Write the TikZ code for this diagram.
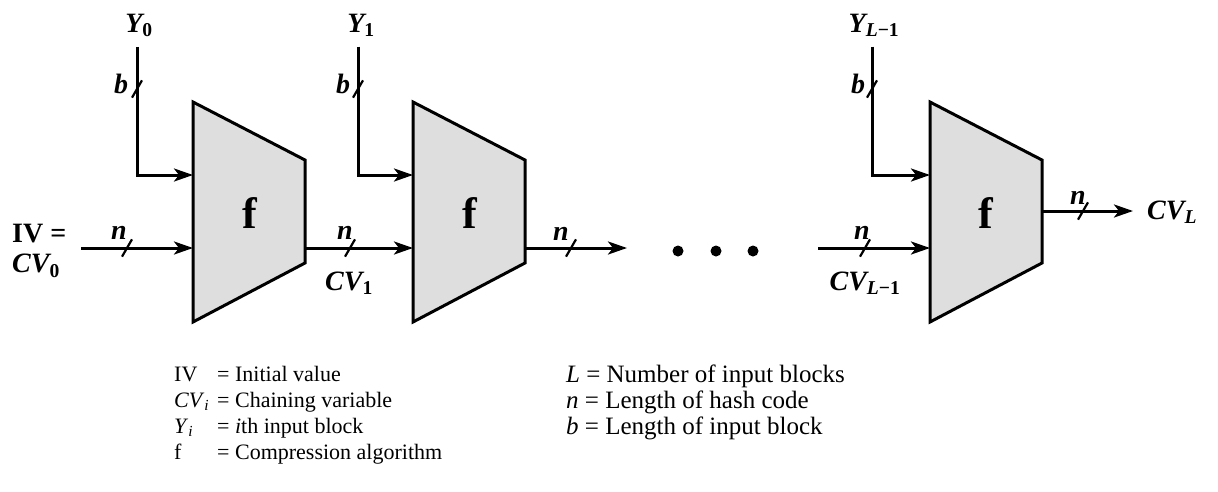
\documentclass[tikz,border=0pt]{standalone}
\usepackage{fontspec}
\setmainfont{Liberation Serif}
\usetikzlibrary{arrows.meta}

\begin{document}
\begin{tikzpicture}[x=1pt, y=-1pt,
        block/.style={draw, line width=3pt, fill=black!13},
        flow/.style={line width=3pt, -{Stealth[length=19pt, width=13pt, inset=5pt]}},
        slash/.style={draw, line width=2.2pt, rectangle, minimum width=0pt, minimum height=20pt, inner sep=0pt, outer sep=0pt, rotate=-30},
        lbl/.style={font=\fontsize{28}{30}\selectfont\bfseries\itshape, inner sep=1pt},
        ftext/.style={font=\fontsize{44}{44}\selectfont\bfseries, inner sep=1pt},
        dot/.style={circle, fill, inner sep=0pt, minimum size=11pt},
        legend/.style={font=\fontsize{22}{26}\selectfont, inner sep=0pt, anchor=base west}
      ]
      \useasboundingbox (0,0) rectangle (1218,491);

      % compression blocks
      \draw[block] (193,102) -- (305,160) -- (305,263) -- (193,322) -- cycle;
      \draw[block] (413,102) -- (525,160) -- (525,263) -- (413,322) -- cycle;
      \draw[block] (930,102) -- (1042,160) -- (1042,263) -- (930,322) -- cycle;
      \node[ftext, anchor=base] (f1) at (250,228) {f};
      \node[ftext, anchor=base] (f2) at (470,228) {f};
      \node[ftext, anchor=base] (f3) at (986,228) {f};
      \coordinate (f1y) at (193,175);
      \coordinate (f2y) at (413,175);
      \coordinate (f3y) at (930,175);
      \coordinate (f1in) at (193,248);
      \coordinate (f2in) at (413,248);
      \coordinate (f3in) at (930,248);
      \coordinate (f1out) at (305,248);
      \coordinate (f2out) at (525,248);
      \coordinate (f3out) at (1042,211);
      \coordinate (w3end) at (627,248);
      \coordinate (w4start) at (818,248);

      % block inputs
      \node[lbl, anchor=base] (y0) at (139,32) {Y\textsubscript{\textup{0}}};
      \node[lbl, anchor=base] (y1) at (361,32) {Y\textsubscript{\textup{1}}};
      \node[lbl, anchor=base] (yl) at (874,32) {Y\textsubscript{L\textup{−1}}};
      \node[slash] (bs0) at (137,89) {};
      \node[slash] (bs1) at (358,89) {};
      \node[slash] (bsl) at (872,89) {};
      \node[lbl] (b0) at (121,84) {b};
      \node[lbl] (b1) at (343,84) {b};
      \node[lbl] (bl) at (858,84) {b};
      \draw[flow, shorten <=9pt] (bs0 |- y0.south) |- (f1y);
      \draw[flow, shorten <=9pt] (bs1 |- y1.south) |- (f2y);
      \draw[flow, shorten <=9pt] (bsl |- yl.south) |- (f3y);

      % chaining values
      \node[lbl, align=left, anchor=west] (iv) at (11,251) {\textup{IV =}\\CV\textsubscript{\textup{0}}};
      \draw[flow, shorten <=14pt] (iv.east |- f1in) -- (f1in);
      \draw[flow] (f1out) -- (f2in);
      \draw[flow] (f2out) -- (w3end);
      \draw[flow] (w4start) -- (f3in);
      \node[lbl, anchor=west] (cvl) at (1146,212) {CV\textsubscript{L}};
      \draw[flow, shorten >=13pt] (f3out) -- (f3out -| cvl.west);
      \node[slash] (s1) at (127,248) {};
      \node[slash] (s2) at (350,248) {};
      \node[slash] (s3) at (571,248) {};
      \node[slash] (s4) at (865,248) {};
      \node[slash] (s5) at (1083,211) {};
      \node[lbl, anchor=base] (n1) at (119,239) {n};
      \node[lbl, anchor=base] (n2) at (345,239) {n};
      \node[lbl, anchor=base] (n3) at (561,240) {n};
      \node[lbl, anchor=base] (n4) at (862,239) {n};
      \node[lbl, anchor=base] (n5) at (1078,204) {n};
      \node[lbl, anchor=base] (cv1) at (349,290) {CV\textsubscript{\textup{1}}};
      \node[lbl, anchor=base] (cvm) at (865,290) {CV\textsubscript{L\textup{−1}}};
      \node[dot] (d1) at (678,251) {};
      \node[dot] (d2) at (716,251) {};
      \node[dot] (d3) at (753,251) {};

      % key
      \node[legend] (keyl) at (174,381) {\begin{tabular}[t]{@{}l@{\hspace{8pt}}l@{}}
        IV & = Initial value\\
        \textit{CV}\textsubscript{\textit{i}} & = Chaining variable\\
        \textit{Y}\textsubscript{\textit{i}} & = \textit{i}th input block\\
        f & = Compression algorithm
      \end{tabular}};
      \node[legend, font=\fontsize{25}{26}\selectfont] (keyr) at (566,382) {\begin{tabular}[t]{@{}l@{}}
        \textit{L} = Number of input blocks\\
        \textit{n} = Length of hash code\\
        \textit{b} = Length of input block
      \end{tabular}};
    \end{tikzpicture}
\end{document}
